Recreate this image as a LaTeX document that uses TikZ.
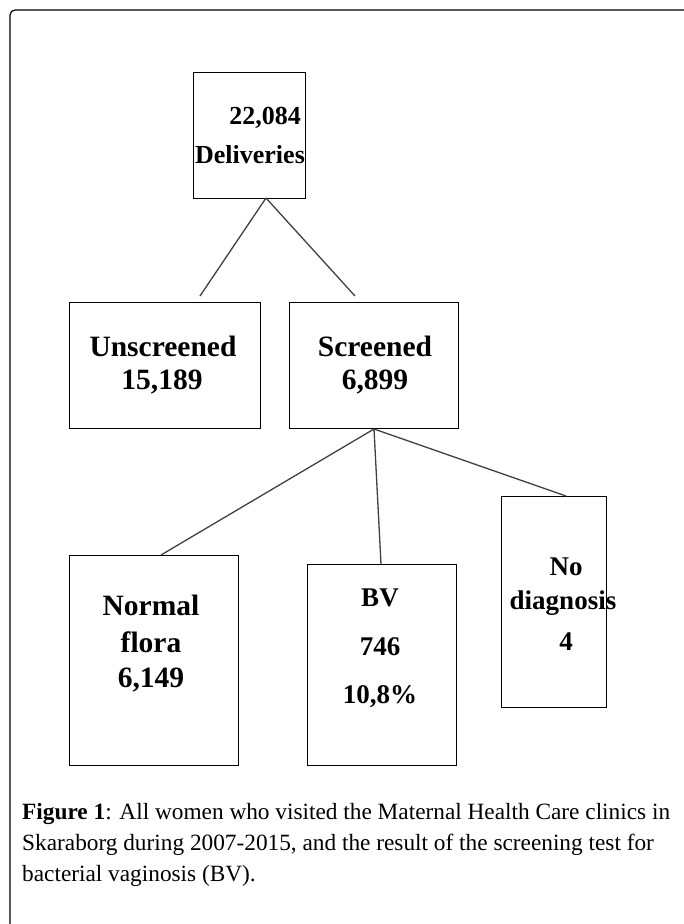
\documentclass[tikz,border=0pt]{standalone}
\usepackage{fontspec}
\setmainfont{Liberation Serif}
\begin{document}
\begin{tikzpicture}[x=1pt,y=-1pt,
  box/.style={draw=black,line width=1.4pt,inner sep=0pt,anchor=north west},
  lbl/.style={inner sep=0pt,anchor=center,font=\fontsize{27}{32}\selectfont\bfseries},
  big/.style={inner sep=0pt,anchor=center,font=\fontsize{29.5}{34}\selectfont\bfseries},
  link/.style={draw=black!75,line width=1.3pt},
  frame/.style={draw=black,line width=1.2pt,rounded corners=5pt}]
\useasboundingbox (0,0) rectangle (683,924);
% outer frame (only top and left edges visible)
\draw[frame] (10,930) -- (10,10) -- (690,10);
% boxes
\node[box,minimum width=112pt,minimum height=126pt] (del) at (193,72) {};
\node[box,minimum width=191pt,minimum height=126pt] (uns) at (69,302) {};
\node[box,minimum width=169pt,minimum height=126pt] (scr) at (289,302) {};
\node[box,minimum width=169pt,minimum height=210pt] (nf) at (69,555) {};
\node[box,minimum width=149pt,minimum height=201pt] (bv) at (307,564) {};
\node[box,minimum width=105pt,minimum height=211pt] (nd) at (501,496) {};
% texts
\node[lbl,font=\fontsize{26}{32}\selectfont\bfseries] (t1) at (265,118) {22,084};
\node[lbl,font=\fontsize{26}{32}\selectfont\bfseries] (t2) at (250,155) {Deliveries};
\node[big] (t3) at (163,346) {Unscreened};
\node[big] (t4) at (162,382) {15,189};
\node[big] (t5) at (375,346) {Screened};
\node[big] (t6) at (375,382) {6,899};
\node[big] (t7) at (151,605) {Normal};
\node[big] (t8) at (151,642) {flora};
\node[big] (t9) at (151,680) {6,149};
\node[lbl] (t10) at (380,598) {BV};
\node[lbl] (t11) at (380,647) {746};
\node[lbl] (t12) at (380,697) {10,8\%};
\node[lbl] (t13) at (566,567) {No};
\node[lbl] (t14) at (563,603) {diagnosis};
\node[lbl] (t15) at (566,642) {4};
% connector points
\coordinate (a1) at (266,198);
\coordinate (e1) at (200,296);
\coordinate (e2) at (355,296);
\coordinate (a2) at (374,429);
\coordinate (e3) at (161,555);
\coordinate (e4) at (381,564);
\coordinate (e5) at (566,496);
\draw[link] (a1) -- (e1);
\draw[link] (a1) -- (e2);
\draw[link] (a2) -- (e3);
\draw[link] (a2) -- (e4);
\draw[link] (a2) -- (e5);
% caption
\node[inner sep=0pt,anchor=north west,align=left,font=\fontsize{23.3}{31}\selectfont] (cap) at (22,803)
 {\textbf{Figure 1}: All women who visited the Maternal Health Care clinics in\\
  Skaraborg during 2007-2015, and the result of the screening test for\\
  bacterial vaginosis (BV).};
\end{tikzpicture}
\end{document}
